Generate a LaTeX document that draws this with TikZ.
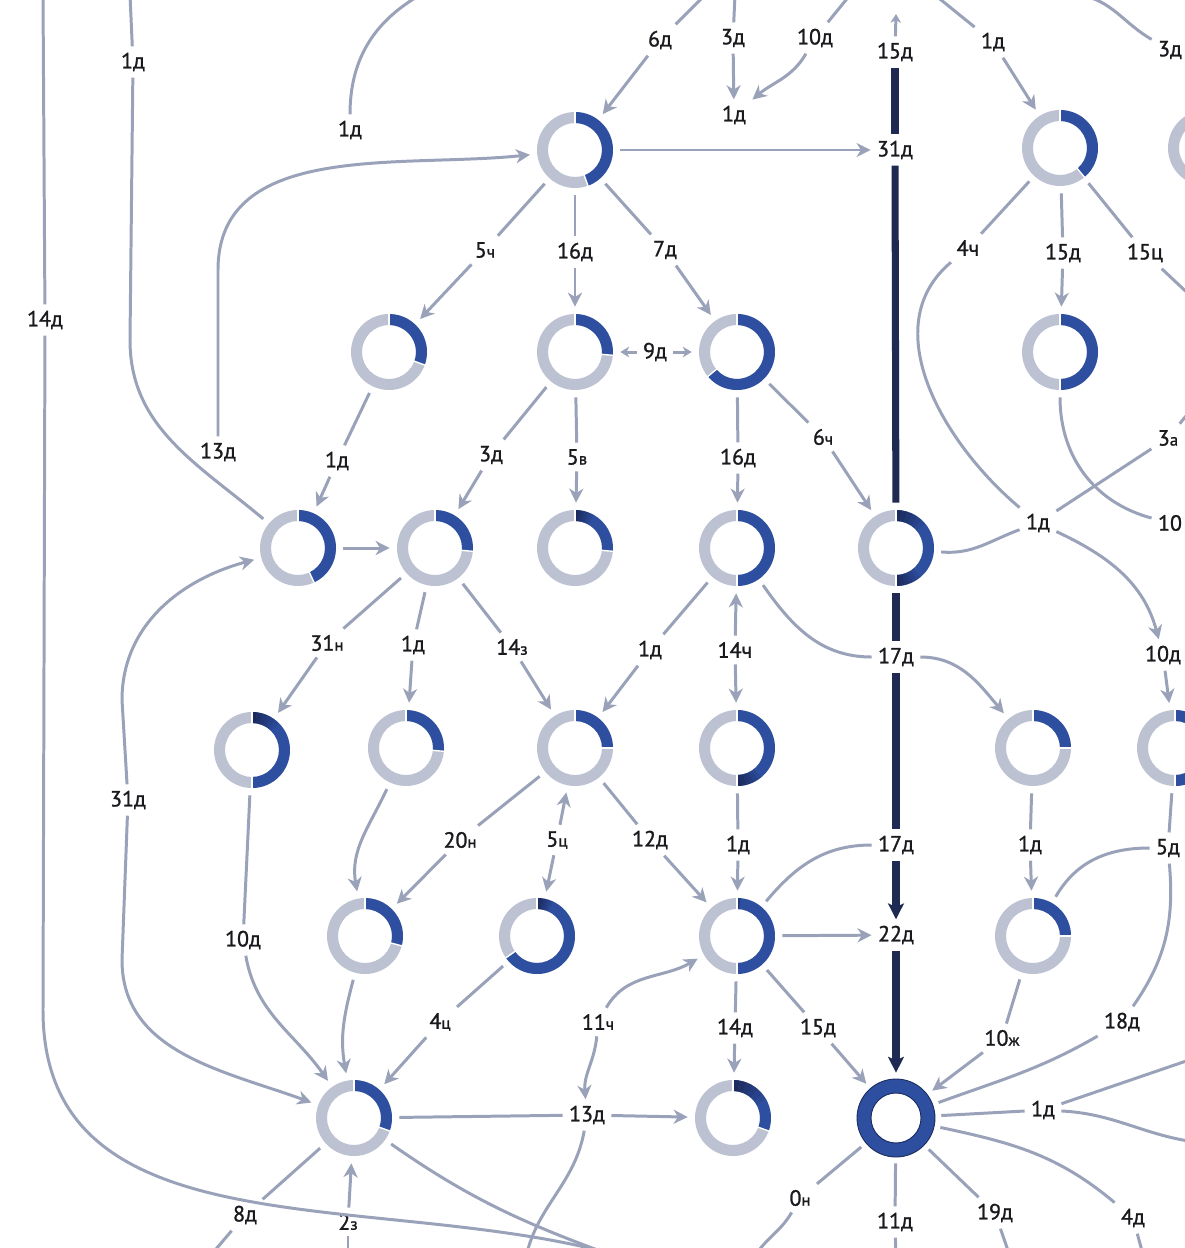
\documentclass[tikz,border=0pt]{standalone}
\usepackage{fontspec}
\setmainfont{PT Sans}[FakeBold=1.2]
\usetikzlibrary{arrows.meta}
\definecolor{edgec}{HTML}{99A2B9}
\definecolor{ringc}{HTML}{BCC2D2}
\definecolor{rblue}{HTML}{2E4F9F}
\definecolor{rdark}{HTML}{1B2A5C}
\definecolor{barc}{HTML}{1F2A52}
\definecolor{txtc}{HTML}{1A1A1E}
\newcommand\sm[1]{{\fontsize{9.5}{10}\selectfont #1}}
\tikzset{
 dn/.style={circle, minimum size=1.8cm, inner sep=0pt},
 lb/.style={inner sep=3.5pt, text=txtc, font=\fontsize{12.5}{14}\selectfont},
 e/.style={draw=edgec, line width=1.7pt},
 ea/.style={e, -{Stealth[length=8pt,width=8pt,inset=2.5pt]}},
 eas/.style={e, -{Stealth[length=5pt,width=6pt,inset=1.5pt]}},
 br/.style={draw=barc, line width=4pt},
 bra/.style={br, -{Stealth[length=9pt,width=9pt,inset=2pt]}},
 pics/donut/.style n args={3}{code={
  \begin{scope}[x=1cm,y=1cm]
   \fill[ringc,even odd rule] (0,0) circle[radius=0.76] circle[radius=0.54];
   \fill[rblue] (90:0.76) arc[start angle=90,end angle={90-#1},radius=0.76] -- ({90-#1}:0.54) arc[start angle={90-#1},end angle=90,radius=0.54] -- cycle;
   \foreach \k in {0,...,5}{
     \pgfmathsetmacro\dA{90-\k*#2/6}
     \pgfmathsetmacro\dB{90-(\k+1)*#2/6}
     \pgfmathsetmacro\dO{1-\k/6}
     \fill[rdark,fill opacity=\dO] (\dA:0.76) arc[start angle=\dA,end angle=\dB,radius=0.76] -- (\dB:0.54) arc[start angle=\dB,end angle=\dA,radius=0.54] -- cycle;
     \pgfmathsetmacro\dC{90-#1+\k*#3/6}
     \pgfmathsetmacro\dD{90-#1+(\k+1)*#3/6}
     \fill[rdark,fill opacity=\dO] (\dC:0.76) arc[start angle=\dC,end angle=\dD,radius=0.76] -- (\dD:0.54) arc[start angle=\dD,end angle=\dC,radius=0.54] -- cycle;
   }
   \draw[white,line width=0.8pt] (90:0.5) -- (90:0.8);
   \draw[white,line width=0.8pt] ({90-#1}:0.5) -- ({90-#1}:0.8);
  \end{scope}
 }},
}
\newcommand\dnut[5]{\node[dn] (#1) at (#2) {}; \pic at (#2) {donut={#3}{#4}{#5}};}
\begin{document}
\begin{tikzpicture}[x=0.02cm,y=-0.02cm]
\fill[white] (0,0) rectangle (1185,1248);
\useasboundingbox (0,0) rectangle (1185,1248);
\clip (0,0) rectangle (1185,1248);

% donuts
\dnut{A1}{575,150}{160}{0}{0}
\dnut{R1}{1060,148}{140}{0}{0}
\dnut{R0}{1206,148}{100}{0}{0}
\dnut{B1}{389,352}{110}{0}{0}
\dnut{B2}{575,352}{95}{0}{0}
\dnut{B3}{737,352}{230}{0}{0}
\dnut{B4}{1060,352}{180}{0}{0}
\dnut{C1}{298,548}{155}{0}{0}
\dnut{C2}{435,548}{95}{0}{0}
\dnut{C3}{575,548}{95}{30}{0}
\dnut{C4}{737,548}{180}{0}{0}
\dnut{C5}{896,548}{180}{50}{40}
\dnut{D1}{252,750}{180}{45}{0}
\dnut{D2}{406,748}{95}{0}{0}
\dnut{D3}{575,748}{90}{0}{0}
\dnut{D4}{737,748}{180}{0}{40}
\dnut{D5}{1033,748}{90}{0}{0}
\dnut{D6}{1175,748}{180}{0}{0}
\dnut{E1}{365,936}{105}{0}{0}
\dnut{E2}{537,936}{235}{25}{0}
\dnut{E3}{737,936}{180}{6}{0}
\dnut{E4}{1033,936}{90}{0}{0}
\dnut{F1}{354,1118}{110}{0}{0}
\dnut{F2}{733,1118}{110}{60}{0}
\node[dn] (F3) at (896,1118) {};
\fill[rblue,even odd rule] (F3.center) circle[radius=0.78cm] circle[radius=0.5cm];
\draw[rdark,line width=0.5pt] (F3.center) circle[radius=0.78cm] circle[radius=0.5cm];

% labels
\node[lb] (l1a) at (133,62) {1д};
\node[lb] (l14) at (45,320) {14д};
\node[lb] (l1b) at (350,130) {1д};
\node[lb] (l13) at (218,452) {13д};
\node[lb] (l6) at (660,40) {6д};
\node[lb] (l3) at (733,38) {3д};
\node[lb] (l10) at (815,38) {10д};
\node[lb] (l1c) at (734,115) {1д};
\node[lb] (l15) at (895,52) {15д};
\node[lb] (l31) at (895,150) {31д};
\node[lb] (l1d) at (993,42) {1д};
\node[lb] (l3r) at (1170,50) {3д};
\node[lb] (l4ch) at (968,248) {4ч};
\node[lb] (l15r) at (1063,253) {15д};
\node[lb] (l15c) at (1145,253) {15ц};
\node[lb] (l3a) at (1168,438) {3\sm{а}};
\node[lb] (l10r) at (1170,523) {10};
\node[lb] (l1e) at (1038,523) {1д};
\node[lb] (l10d) at (1163,655) {10д};
\node[lb] (l5ch) at (485,250) {5\sm{ч}};
\node[lb] (l16) at (575,252) {16д};
\node[lb] (l7) at (665,250) {7д};
\node[lb] (l9) at (655,352) {9д};
\node[lb] (l1f) at (337,461) {1д};
\node[lb] (l3d) at (491,455) {3д};
\node[lb] (l5v) at (577,457) {5\sm{в}};
\node[lb] (l16b) at (738,458) {16д};
\node[lb] (l6ch) at (823,437) {6\sm{ч}};
\node[lb] (l31d) at (128,800) {31д};
\node[lb] (l31n) at (327,643) {31\sm{н}};
\node[lb] (l1g) at (413,645) {1д};
\node[lb] (l14z) at (512,647) {14\sm{з}};
\node[lb] (l1h) at (650,650) {1д};
\node[lb] (l14ch) at (735,650) {14ч};
\node[lb] (l17a) at (896,657) {17д};
\node[lb] (l10e) at (243,940) {10д};
\node[lb] (l20) at (460,840) {20\sm{н}};
\node[lb] (l5c) at (557,840) {5\sm{ц}};
\node[lb] (l12) at (650,840) {12д};
\node[lb] (l1i) at (738,845) {1д};
\node[lb] (l17b) at (896,845) {17д};
\node[lb] (l22) at (896,935) {22д};
\node[lb] (l1j) at (1030,845) {1д};
\node[lb] (l5d) at (1168,848) {5д};
\node[lb] (l4c) at (440,1022) {4\sm{ц}};
\node[lb] (l11ch) at (598,1022) {11\sm{ч}};
\node[lb] (l14d) at (735,1028) {14д};
\node[lb] (l15d) at (818,1028) {15д};
\node[lb] (l10zh) at (1002,1038) {10\sm{ж}};
\node[lb] (l18) at (1122,1022) {18д};
\node[lb] (l13d) at (587,1115) {13д};
\node[lb] (l1k) at (1043,1110) {1д};
\node[lb] (l8) at (245,1215) {8д};
\node[lb] (l2z) at (348,1222) {2\sm{з}};
\node[lb] (l0) at (800,1198) {0\sm{н}};
\node[lb] (l11) at (895,1222) {11д};
\node[lb] (l19) at (995,1213) {19д};
\node[lb] (l4d) at (1133,1218) {4д};

% edge coordinates
\coordinate (t1) at (130,-5);
\coordinate (k1) at (130,340);
\coordinate (t14) at (43,-5);
\coordinate (k14) at (43,1010);
\coordinate (b14) at (640,1262);
\coordinate (t1b) at (420,-5);
\coordinate (k13) at (218,270);
\coordinate (t6) at (705,-5);
\coordinate (t3) at (735,-5);
\coordinate (t10) at (850,-5);
\coordinate (t15) at (896,14);
\coordinate (t1d) at (935,-5);
\coordinate (t3r) at (1080,-5);
\coordinate (r15) at (1195,300);
\coordinate (r3a) at (1195,405);
\coordinate (k31a) at (122,700);
\coordinate (k31b) at (122,960);
\coordinate (r1u) at (1195,1058);
\coordinate (r1k) at (1195,1142);
\coordinate (b0) at (752,1262);
\coordinate (b11) at (896,1262);
\coordinate (b19) at (1012,1262);
\coordinate (b4) at (1145,1262);
\coordinate (b8) at (205,1262);
\coordinate (b2) at (348,1262);
\coordinate (bF) at (630,1262);
\coordinate (b13) at (525,1262);

% left long lines
\draw[e] (t1) -- (l1a);
\draw[e] (l1a) -- (k1) to[out=-90,in=140] (C1);
\draw[e] (t14) -- (l14);
\draw[e] (l14) -- (k14) to[out=-90,in=162] (b14);
\draw[e] (l1b) to[out=90,in=210] (t1b);
\draw[ea] (l13) -- (k13) to[out=90,in=186] (A1);
\draw[ea] (l31d) -- (k31a) to[out=90,in=195] (C1);
\draw[ea] (l31d) -- (k31b) to[out=-90,in=160] (F1);

% top
\draw[e] (t6) -- (l6);
\draw[ea] (l6) -- (A1);
\draw[e] (t3) -- (l3);
\draw[ea] (l3) -- (l1c);
\draw[e] (t10) -- (l10);
\draw[ea] (l10) to[out=-120,in=40] (l1c);
\draw[eas] (l15) -- (t15);
\draw[ea] (A1) -- (l31);
\draw[e] (t1d) -- (l1d);
\draw[ea] (l1d) -- (R1);
\draw[e] (t3r) to[out=-10,in=150] (l3r);

% right column
\draw[e] (R1) -- (l4ch);
\draw[e] (l4ch) to[out=-140,in=140] (l1e);
\draw[e] (R1) -- (l15r);
\draw[ea] (l15r) -- (B4);
\draw[e] (R1) -- (l15c);
\draw[e] (l15c) -- (r15);
\draw[e] (B4) to[out=-90,in=165] (l10r);
\draw[e] (l1e) -- (l3a);
\draw[e] (l3a) -- (r3a);
\draw[e] (C5) to[out=-5,in=200] (l1e);
\draw[ea] (l1e) to[out=-25,in=105] (l10d);
\draw[ea] (l10d) -- (D6);

% rows 1-3
\draw[e] (A1) -- (l5ch);
\draw[ea] (l5ch) -- (B1);
\draw[e] (A1) -- (l16);
\draw[ea] (l16) -- (B2);
\draw[e] (A1) -- (l7);
\draw[ea] (l7) -- (B3);
\draw[eas] (l9) -- (B2);
\draw[eas] (l9) -- (B3);
\draw[e] (B1) -- (l1f);
\draw[ea] (l1f) -- (C1);
\draw[e] (B2) -- (l3d);
\draw[ea] (l3d) -- (C2);
\draw[e] (B2) -- (l5v);
\draw[ea] (l5v) -- (C3);
\draw[e] (B3) -- (l16b);
\draw[ea] (l16b) -- (C4);
\draw[e] (B3) -- (l6ch);
\draw[ea] (l6ch) -- (C5);
\draw[ea] (C1) -- (C2);

% rows 3-4
\draw[e] (C2) -- (l31n);
\draw[ea] (l31n) -- (D1);
\draw[e] (C2) -- (l1g);
\draw[ea] (l1g) -- (D2);
\draw[e] (C2) -- (l14z);
\draw[ea] (l14z) -- (D3);
\draw[e] (C4) -- (l1h);
\draw[ea] (l1h) -- (D3);
\draw[ea] (l14ch) -- (C4);
\draw[ea] (l14ch) -- (D4);
\draw[e] (C4) to[out=-55,in=180] (l17a);
\draw[ea] (l17a) to[out=0,in=130] (D5);

% rows 4-5
\draw[e] (D1) -- (l10e);
\draw[ea] (l10e) to[out=-80,in=125] (F1);
\draw[ea] (D2) to[out=-115,in=100] (E1);
\draw[e] (D3) -- (l20);
\draw[ea] (l20) -- (E1);
\draw[ea] (l5c) -- (D3);
\draw[ea] (l5c) -- (E2);
\draw[e] (D3) -- (l12);
\draw[ea] (l12) -- (E3);
\draw[e] (D4) -- (l1i);
\draw[ea] (l1i) -- (E3);
\draw[e] (E3) to[out=50,in=180] (l17b);
\draw[ea] (E3) -- (l22);
\draw[e] (D5) -- (l1j);
\draw[ea] (l1j) -- (E4);
\draw[e] (E4) to[out=60,in=180] (l5d);
\draw[e] (D6) -- (l5d);
\draw[e] (l5d) to[out=-85,in=55] (l18);
\draw[e] (l18) to[out=-150,in=20] (F3);

% rows 5-6
\draw[e] (E4) -- (l10zh);
\draw[ea] (l10zh) -- (F3);
\draw[e] (E3) -- (l14d);
\draw[ea] (l14d) -- (F2);
\draw[e] (E3) -- (l15d);
\draw[ea] (l15d) -- (F3);
\draw[ea] (l11ch) to[out=60,in=210] (E3);
\draw[ea] (l11ch) to[out=-95,in=95] (l13d);
\draw[e] (E2) -- (l4c);
\draw[ea] (l4c) -- (F1);
\draw[ea] (E1) to[out=-105,in=100] (F1);
\draw[e] (F1) -- (l13d);
\draw[ea] (l13d) -- (F2);
\draw[e] (l13d) to[out=-100,in=80] (b13);

% bottom
\draw[e] (F3) -- (l1k);
\draw[e] (l1k) -- (r1u);
\draw[e] (l1k) to[out=-3,in=172] (r1k);
\draw[e] (F3) -- (l0);
\draw[e] (l0) to[out=-120,in=65] (b0);
\draw[e] (F3) -- (l11);
\draw[e] (l11) -- (b11);
\draw[e] (F3) -- (l19);
\draw[e] (l19) -- (b19);
\draw[e] (F3) to[out=-12,in=140] (l4d);
\draw[e] (l4d) -- (b4);
\draw[e] (F1) -- (l8);
\draw[e] (l8) -- (b8);
\draw[e] (b2) -- (l2z);
\draw[ea] (l2z) -- (F1);
\draw[e] (F1) to[out=-35,in=160] (bF);

% dark bar
\draw[br] (l15) -- (l31);
\draw[br] (l31) -- (C5);
\draw[br] (C5) -- (l17a);
\draw[br] (l17a) -- (l17b);
\draw[bra] (l17b) -- (l22);
\draw[bra] (l22) -- (F3);
\end{tikzpicture}
\end{document}
